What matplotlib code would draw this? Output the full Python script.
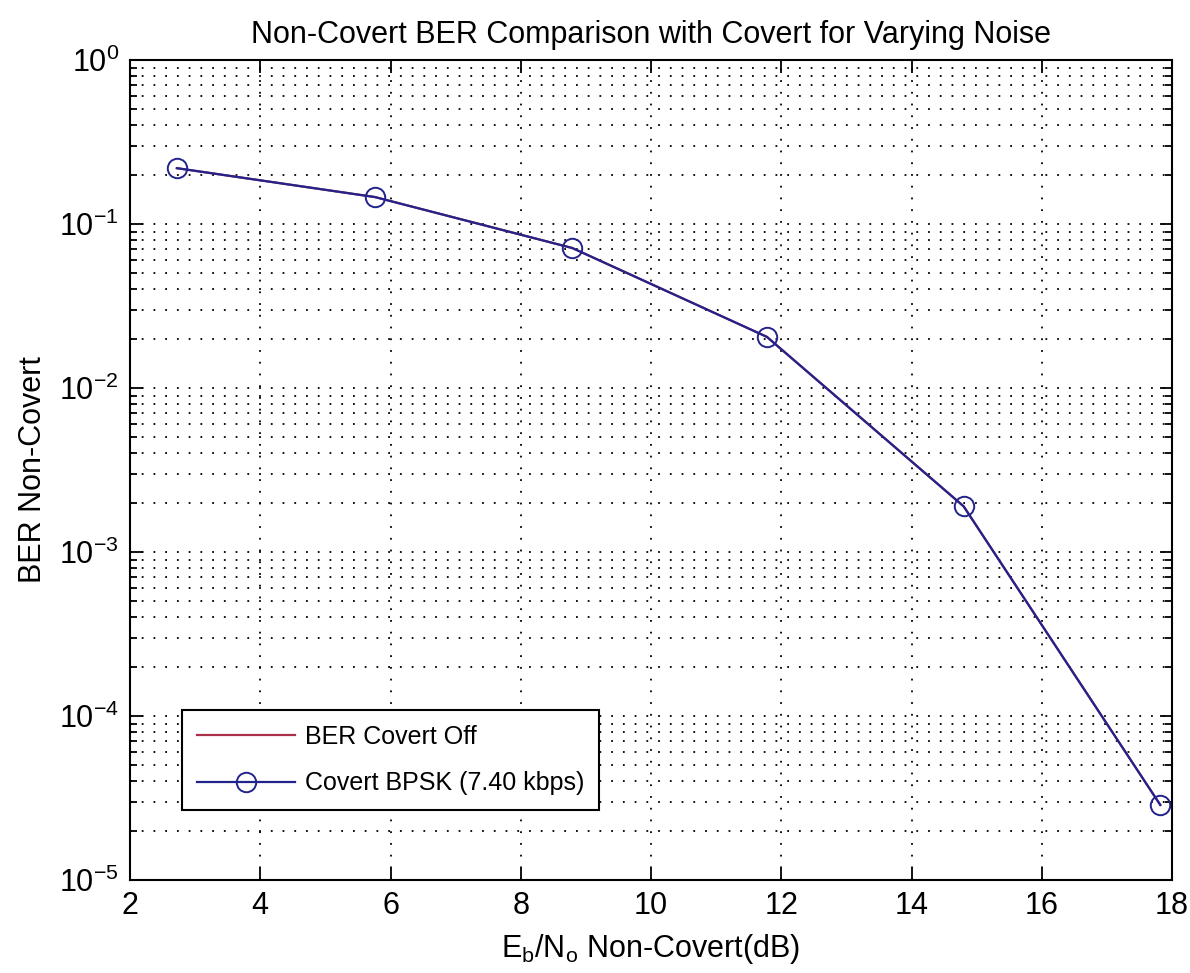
import matplotlib.pyplot as plt
import numpy as np

plt.rcParams['font.family'] = ['Liberation Sans', 'DejaVu Sans']
plt.rcParams['mathtext.fontset'] = 'custom'
plt.rcParams['mathtext.rm'] = 'Liberation Sans'
plt.rcParams['mathtext.it'] = 'Liberation Sans'

# data
ebno = [2.72, 5.76, 8.79, 11.78, 14.8, 17.82]
ber_off = [0.219, 0.146, 0.0714, 0.0205, 0.0019, 2.87e-5]
ber_covert = [0.219, 0.146, 0.0714, 0.0205, 0.0019, 2.87e-5]

fig = plt.figure(figsize=(11.9, 9.73), dpi=100)
ax = fig.add_axes([130/1190, 93/973, 1042/1190, 820/973])

ax.semilogy(ebno, ber_off, color='#a8304a', linewidth=1.6, label='BER Covert Off')
ax.semilogy(ebno, ber_covert, color='#23238c', linewidth=1.6, marker='o',
            markersize=14, markerfacecolor='none', markeredgewidth=1.4,
            label='Covert BPSK (7.40 kbps)')

ax.set_xlim(2, 18)
ax.set_ylim(1e-5, 1e0)
ax.set_xticks(np.arange(2, 19, 2))

dots = (0, (1, 5.5))
ax.grid(which='major', axis='both', color='black', linestyle=dots, linewidth=1.3)
ax.grid(which='minor', axis='y', color='black', linestyle=dots, linewidth=1.3)

ax.tick_params(which='both', direction='in', top=True, right=True, labelsize=22, width=1.3)
ax.tick_params(which='major', length=9, pad=8)
ax.tick_params(which='minor', length=5)
for s in ax.spines.values():
    s.set_linewidth(1.5)

ax.set_title('Non-Covert BER Comparison with Covert for Varying Noise', fontsize=22, pad=12)
ax.set_xlabel(r'E$_\mathregular{b}$/N$_\mathregular{o}$ Non-Covert(dB)', fontsize=22, labelpad=8)
ax.set_ylabel('BER Non-Covert', fontsize=22, labelpad=8)

leg = ax.legend(loc='lower left', bbox_to_anchor=(0.05, 0.085), borderaxespad=0,
                fontsize=18, fancybox=False, framealpha=1, edgecolor='black',
                handlelength=3.9, labelspacing=0.9, borderpad=0.6, handletextpad=0.4)
leg.get_frame().set_linewidth(1.5)

fig.savefig('out.png', dpi=100)
